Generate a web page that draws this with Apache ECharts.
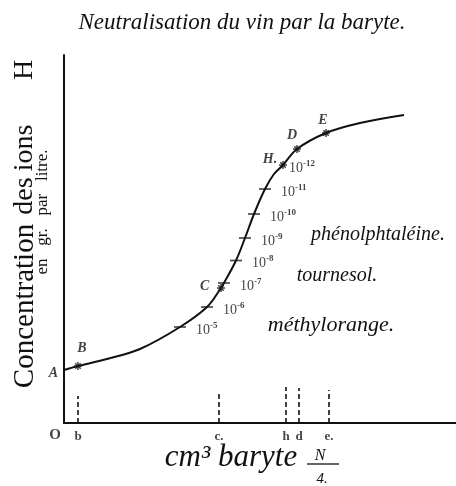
<!DOCTYPE html>
<html>
<head>
<meta charset="utf-8">
<script src="https://cdn.jsdelivr.net/npm/echarts@6/dist/echarts.min.js"></script>
<style>
  html, body { margin: 0; padding: 0; background: #fff; }
  #chart { width: 456px; height: 486px; }
</style>
</head>
<body>
<div id="chart"></div>
<script>
// Titration curve: volume of baryte added (cm³) vs. hydrogen-ion concentration
const curveX = [0, 1.4, 4.3, 7.6, 11.6, 14.3, 15.7, 16.0, 17.2, 18.1, 19.0, 20.1, 21.0, 21.9, 23.3, 26.2, 29.6, 34.0];
const curveY = [5.3, 5.7, 6.4, 7.4, 9.6, 11.6, 13.5, 14.0, 16.25, 18.5, 20.9, 23.4, 24.9, 25.8, 27.4, 29.0, 30.0, 30.8];

// Named points on the curve
const pointNames = ['B', 'C', 'H.', 'D', 'E'];
const pointX = [1.4, 15.7, 21.9, 23.3, 26.2];
const pointY = [5.7, 13.5, 25.8, 27.4, 29.0];

// Concentration marks along the curve (powers of ten)
const concExp = [-5, -6, -7, -8, -9, -10, -11];
const concX = [11.6, 14.3, 16.0, 17.2, 18.1, 19.0, 20.1];
const concY = [9.6, 11.6, 14.0, 16.25, 18.5, 20.9, 23.4];
// the 10^-12 mark coincides with point H
const hExp = -12;

// Short dashed markers on the volume axis
const dropNames = ['b', 'c.', 'h', 'd', 'e.'];
const dropX = [1.4, 15.5, 22.2, 23.5, 26.5];
const dropH = [2.7, 3.0, 3.6, 3.5, 3.3];

const X_MAX = 39.2, Y_MAX = 36.8;
const INK = '#111';
const SERIF = '"Liberation Serif", "DejaVu Serif", serif';

const star = 'path://M5 0 L5 10 M0 5 L10 5 M1.6 1.6 L8.4 8.4 M8.4 1.6 L1.6 8.4';

const pointLabel = {
  'B': { position: 'top', offset: [4, -1] },
  'C': { position: 'left', offset: [-2, -2] },
  'H.': { position: 'left', offset: [4, -6] },
  'D': { position: 'top', offset: [-5, 3] },
  'E': { position: 'top', offset: [-3, 4] }
};

const powRich = {
  b: { fontFamily: SERIF, fontSize: 14, color: INK },
  s: { fontFamily: SERIF, fontSize: 9, color: INK, fontWeight: 'bold', padding: [0, 0, 9, 0] }
};
const powText = e => '{b|10}{s|' + e + '}';

const series = [];

series.push({
  type: 'line',
  data: curveX.map((x, i) => [x, curveY[i]]),
  smooth: 0.35,
  symbol: 'none',
  lineStyle: { color: INK, width: 2 },
  z: 3
});

series.push({
  type: 'scatter',
  data: concX.map((x, i) => ({ value: [x, concY[i]], exp: concExp[i] })),
  symbol: 'rect',
  symbolSize: [12, 1.6],
  itemStyle: { color: INK },
  label: {
    show: true,
    position: 'right',
    distance: 8,
    offset: [2, 3],
    formatter: p => powText(p.data.exp),
    rich: powRich
  },
  z: 4
});

series.push({
  type: 'scatter',
  data: pointNames.map((n, i) => ({
    value: [pointX[i], pointY[i]],
    name: n,
    label: Object.assign({ show: true }, pointLabel[n])
  })),
  symbol: star,
  symbolSize: 8,
  itemStyle: { color: 'transparent', borderColor: INK, borderWidth: 1.5 },
  label: {
    show: true,
    formatter: p => p.name,
    fontFamily: SERIF,
    fontStyle: 'italic',
    fontWeight: 'bold',
    fontSize: 14,
    color: INK
  },
  z: 5
});

// 10^-12 label beside H
series.push({
  type: 'scatter',
  data: [[pointX[2], pointY[2]]],
  symbolSize: 0,
  label: {
    show: true,
    position: 'right',
    distance: 6,
    offset: [0, 3],
    formatter: () => powText(hExp),
    rich: powRich
  },
  z: 4
});

// Starting point A on the ordinate
series.push({
  type: 'scatter',
  data: [[curveX[0], curveY[0]]],
  symbolSize: 0,
  label: {
    show: true, position: 'left', distance: 6, offset: [0, 3],
    formatter: 'A', fontFamily: SERIF, fontStyle: 'italic', fontWeight: 'bold', fontSize: 14, color: INK
  }
});

dropX.forEach((x, i) => {
  series.push({
    type: 'line',
    data: [[x, 0], [x, dropH[i]]],
    symbol: 'none',
    lineStyle: { color: INK, width: 1.6, type: [5, 3] },
    z: 2
  });
});

// Letters under the dashed markers, plus the origin
series.push({
  type: 'scatter',
  data: dropX.map((x, i) => ({ value: [x, 0], name: dropNames[i] })),
  symbolSize: 0,
  label: {
    show: true, position: 'bottom', distance: 7,
    formatter: p => p.name, fontFamily: SERIF, fontWeight: 'bold', fontSize: 13, color: INK
  }
});
series.push({
  type: 'scatter',
  data: [[0, 0]],
  symbolSize: 0,
  label: {
    show: true, position: 'bottom', distance: 5, offset: [-9, 0],
    formatter: 'O', fontFamily: SERIF, fontWeight: 'bold', fontSize: 15, color: INK
  }
});

const ytitle = (text, y, size) => ({
  type: 'text', x: 25, y: y, rotation: Math.PI / 2, style: {
    text: text, align: 'center', verticalAlign: 'middle',
    fontFamily: SERIF, fontSize: size, fill: INK }
});
const note = (text, x, y, size) => ({
  type: 'text', x: x, y: y, style: {
    text: text, align: 'center', verticalAlign: 'middle',
    fontFamily: SERIF, fontStyle: 'italic', fontSize: size, fill: INK }
});

const chart = echarts.init(document.getElementById('chart'), null, { renderer: 'canvas' });
chart.setOption({
  animation: false,
  backgroundColor: '#fff',
  grid: { left: 64, right: 0, top: 55, bottom: 63, containLabel: false },
  xAxis: {
    type: 'value', min: 0, max: X_MAX,
    axisLine: { show: true, onZero: false, lineStyle: { color: INK, width: 2 } },
    axisTick: { show: false }, axisLabel: { show: false }, splitLine: { show: false }
  },
  yAxis: {
    type: 'value', min: 0, max: Y_MAX,
    axisLine: { show: true, onZero: false, lineStyle: { color: INK, width: 2 } },
    axisTick: { show: false }, axisLabel: { show: false }, splitLine: { show: false }
  },
  graphic: [
    { type: 'text', x: 242, y: 23, style: {
        text: 'Neutralisation du vin par la baryte.', align: 'center', verticalAlign: 'middle',
        fontFamily: SERIF, fontStyle: 'italic', fontSize: 23, fill: INK } },
    ytitle('Concentration', 306, 29),
    ytitle('des', 196, 28),
    ytitle('ions', 148, 28),
    ytitle('H', 70, 28),
    { type: 'text', x: 43, y: 212, rotation: Math.PI / 2, style: {
        text: 'en   gr.   par   litre.', align: 'center', verticalAlign: 'middle',
        fontFamily: SERIF, fontSize: 17, fill: INK } },
    { type: 'text', x: 231, y: 458, style: {
        text: 'cm³ baryte', align: 'center', verticalAlign: 'middle',
        fontFamily: SERIF, fontStyle: 'italic', fontSize: 31, fill: INK } },
    { type: 'text', x: 320, y: 456, style: {
        text: 'N', align: 'center', verticalAlign: 'middle',
        fontFamily: SERIF, fontStyle: 'italic', fontSize: 16, fill: INK } },
    { type: 'line', shape: { x1: 307, y1: 464, x2: 339, y2: 464 }, style: { stroke: INK, lineWidth: 1.3 } },
    { type: 'text', x: 322, y: 479, style: {
        text: '4.', align: 'center', verticalAlign: 'middle',
        fontFamily: SERIF, fontStyle: 'italic', fontSize: 15, fill: INK } },
    note('phénolphtaléine.', 378, 235, 20),
    note('tournesol.', 337, 276, 20),
    note('méthylorange.', 331, 325, 22)
  ],
  series: series
});
</script>
</body>
</html>
